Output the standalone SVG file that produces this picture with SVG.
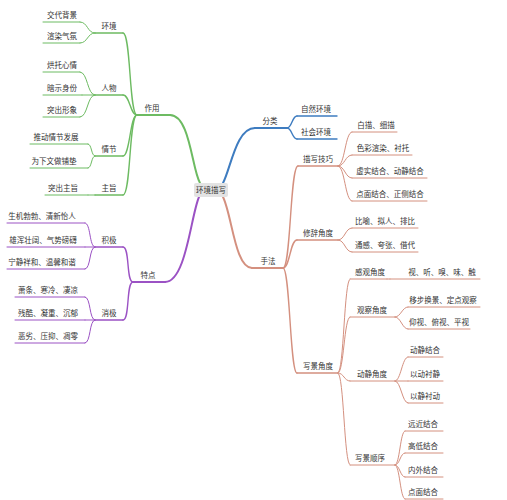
<svg xmlns="http://www.w3.org/2000/svg" width="507" height="500" viewBox="0 0 507 500">
<style>
text{font-family:"Noto Sans CJK SC","Noto Sans",sans-serif;font-size:7.5px;fill:#333;text-anchor:middle}
path,line{fill:none;stroke-linecap:round}
.g{stroke:#6dbb62}.b{stroke:#3e7cc0}.p{stroke:#9b52c4}.r{stroke:#d4907f}
.w2{stroke-width:2}.w15{stroke-width:1.4}.w1{stroke-width:1}
</style>
<rect width="507" height="500" fill="#fff"/>
<g id="connectors">
<!-- main -->
<path class="g w2" d="M170,115 C190,115 192,170 200,183"/>
<path class="b w2" d="M223,183 C231,168 236,128 255,128"/>
<path class="p w2" d="M199,197 C191,215 186,282 165,282"/>
<path class="r w2" d="M223,197 C232,215 235,268 252,268"/>
<!-- green level 2 -->
<path class="g w15" d="M137,115 C129,115 131,33 123,33"/>
<path class="g w15" d="M137,115 C130,115 130,95 123,95"/>
<path class="g w15" d="M137,115 C130,115 130,156 123,156"/>
<path class="g w15" d="M137,115 C129,115 131,195 123,195"/>
<!-- green level 3 -->
<path class="g w1" d="M95,33 C87,33 88,22 80,22"/>
<path class="g w1" d="M95,33 C87,33 88,43 80,43"/>
<path class="g w1" d="M95,95 C87,95 88,72 80,72"/>
<path class="g w1" d="M95,95 L82,95"/>
<path class="g w1" d="M95,95 C87,95 88,117 80,117"/>
<path class="g w1" d="M95,156 C91,156 92,144 88,144"/>
<path class="g w1" d="M95,156 C91,156 92,168 88,168"/>
<path class="g w1" d="M95,195 L88,195"/>
<!-- blue level 2 -->
<path class="b w15" d="M287,128 C292,128 292,116 297,116"/>
<path class="b w15" d="M287,128 C292,128 292,139 297,139"/>
<!-- purple level 2 -->
<path class="p w15" d="M133,282 C126,282 130,247 123,247"/>
<path class="p w15" d="M133,282 C126,282 130,320 123,320"/>
<path class="p w1" d="M95,247 C89,247 91,223 85,223"/>
<path class="p w1" d="M95,247 L85,247"/>
<path class="p w1" d="M95,247 C89,247 91,269 85,269"/>
<path class="p w1" d="M95,320 C89,320 91,297 85,297"/>
<path class="p w1" d="M95,320 L85,320"/>
<path class="p w1" d="M95,320 C89,320 91,343 85,343"/>
<!-- salmon level 2 -->
<path class="r w15" d="M283,268 C291,268 290,166 298,166"/>
<path class="r w15" d="M283,268 C290,268 290,240 297,240"/>
<path class="r w15" d="M283,268 C290,268 290,373 297,373"/>
<!-- salmon level 3 -->
<path class="r w1" d="M338,166 C345,166 345,132 352,132"/>
<path class="r w1" d="M338,166 C345,166 345,155 352,155"/>
<path class="r w1" d="M338,166 C345,166 345,178 352,178"/>
<path class="r w1" d="M338,166 C345,166 345,201 352,201"/>
<path class="r w1" d="M338,240 C345,240 345,228 352,228"/>
<path class="r w1" d="M338,240 C345,240 345,252 352,252"/>
<path class="r w1" d="M338,373 C344,373 344,279 350,279"/>
<path class="r w1" d="M338,373 C344,373 344,317 350,317"/>
<path class="r w1" d="M338,373 C344,373 344,381 350,381"/>
<path class="r w1" d="M338,373 C344,373 344,465 350,465"/>
<!-- salmon level 4 -->
<path class="r w1" d="M387,279 L390,279"/>
<path class="r w1" d="M395,317 C401,317 402,307 408,307"/>
<path class="r w1" d="M395,317 C401,317 402,329 408,329"/>
<path class="r w1" d="M395,381 C401,381 402,357 408,357"/>
<path class="r w1" d="M395,381 L408,381"/>
<path class="r w1" d="M395,381 C401,381 402,403 408,403"/>
<path class="r w1" d="M395,465 C400,465 400,431 405,431"/>
<path class="r w1" d="M395,465 C400,465 400,453 405,453"/>
<path class="r w1" d="M395,465 C400,465 400,477 405,477"/>
<path class="r w1" d="M395,465 C400,465 400,499 405,499"/>
</g>
<g id="root"><rect x="194" y="183" width="34" height="14" rx="2" fill="#e3e3e3"/><text x="211" y="193">环境描写</text></g>
<!-- green -->
<g id="n-zuoyong"><line class="g w2" x1="137" y1="115" x2="170" y2="115"/><text x="152" y="111">作用</text></g>
<g id="n-huanjing"><line class="g w15" x1="95" y1="33" x2="123" y2="33"/><text x="109" y="29">环境</text></g>
<g id="n-jiaodai"><line class="g w1" x1="43" y1="22" x2="80" y2="22"/><text x="62" y="18">交代背景</text></g>
<g id="n-xuanran"><line class="g w1" x1="43" y1="43" x2="80" y2="43"/><text x="62" y="39">渲染气氛</text></g>
<g id="n-renwu"><line class="g w15" x1="95" y1="95" x2="123" y2="95"/><text x="109" y="91">人物</text></g>
<g id="n-hongtuo"><line class="g w1" x1="43" y1="72" x2="80" y2="72"/><text x="62" y="68">烘托心情</text></g>
<g id="n-anshi"><line class="g w1" x1="43" y1="95" x2="82" y2="95"/><text x="62" y="91">暗示身份</text></g>
<g id="n-tuchu"><line class="g w1" x1="43" y1="117" x2="80" y2="117"/><text x="62" y="113">突出形象</text></g>
<g id="n-qingjie"><line class="g w15" x1="95" y1="156" x2="123" y2="156"/><text x="109" y="152">情节</text></g>
<g id="n-tuidong"><line class="g w1" x1="30" y1="144" x2="88" y2="144"/><text x="56" y="140">推动情节发展</text></g>
<g id="n-puidian"><line class="g w1" x1="30" y1="168" x2="88" y2="168"/><text x="54" y="164">为下文做铺垫</text></g>
<g id="n-zhuzhi"><line class="g w15" x1="95" y1="195" x2="123" y2="195"/><text x="109" y="191">主旨</text></g>
<g id="n-tuchuzhuzhi"><line class="g w1" x1="45" y1="195" x2="88" y2="195"/><text x="63" y="191">突出主旨</text></g>
<!-- purple -->
<g id="n-tedian"><line class="p w2" x1="133" y1="282" x2="165" y2="282"/><text x="148" y="278">特点</text></g>
<g id="n-jiji"><line class="p w15" x1="95" y1="247" x2="123" y2="247"/><text x="109" y="243">积极</text></g>
<g id="n-shengji"><line class="p w1" x1="7" y1="223" x2="85" y2="223"/><text x="42" y="219">生机勃勃、清新怡人</text></g>
<g id="n-xionghun"><line class="p w1" x1="7" y1="247" x2="85" y2="247"/><text x="43" y="243">雄浑壮阔、气势磅礴</text></g>
<g id="n-ningjing"><line class="p w1" x1="7" y1="269" x2="85" y2="269"/><text x="42" y="265">宁静祥和、温馨和谐</text></g>
<g id="n-xiaoji"><line class="p w15" x1="95" y1="320" x2="123" y2="320"/><text x="109" y="316">消极</text></g>
<g id="n-xiaotiao"><line class="p w1" x1="15" y1="297" x2="85" y2="297"/><text x="48" y="293">萧条、寒冷、凄凉</text></g>
<g id="n-canku"><line class="p w1" x1="15" y1="320" x2="85" y2="320"/><text x="48" y="316">残酷、凝重、沉郁</text></g>
<g id="n-elie"><line class="p w1" x1="15" y1="343" x2="85" y2="343"/><text x="48" y="339">恶劣、压抑、凋零</text></g>
<!-- blue -->
<g id="n-fenlei"><line class="b w2" x1="255" y1="128" x2="287" y2="128"/><text x="270" y="124">分类</text></g>
<g id="n-ziran"><line class="b w15" x1="297" y1="116" x2="337" y2="116"/><text x="316" y="112">自然环境</text></g>
<g id="n-shehui"><line class="b w15" x1="297" y1="139" x2="337" y2="139"/><text x="316" y="135">社会环境</text></g>
<!-- salmon -->
<g id="n-shoufa"><line class="r w2" x1="252" y1="268" x2="283" y2="268"/><text x="268" y="264">手法</text></g>
<g id="n-miaoxie"><line class="r w15" x1="298" y1="166" x2="338" y2="166"/><text x="318" y="162">描写技巧</text></g>
<g id="n-baimiao"><line class="r w1" x1="352" y1="132" x2="397" y2="132"/><text x="376" y="128">白描、细描</text></g>
<g id="n-secai"><line class="r w1" x1="352" y1="155" x2="412" y2="155"/><text x="383" y="151">色彩渲染、衬托</text></g>
<g id="n-xushi"><line class="r w1" x1="352" y1="178" x2="427" y2="178"/><text x="390" y="174">虚实结合、动静结合</text></g>
<g id="n-dianmian1"><line class="r w1" x1="352" y1="201" x2="427" y2="201"/><text x="390" y="197">点面结合、正侧结合</text></g>
<g id="n-xiuci"><line class="r w15" x1="297" y1="240" x2="338" y2="240"/><text x="318" y="236">修辞角度</text></g>
<g id="n-biyu"><line class="r w1" x1="352" y1="228" x2="418" y2="228"/><text x="385" y="224">比喻、拟人、排比</text></g>
<g id="n-tonggan"><line class="r w1" x1="352" y1="252" x2="418" y2="252"/><text x="385" y="248">通感、夸张、借代</text></g>
<g id="n-xiejing"><line class="r w15" x1="297" y1="373" x2="338" y2="373"/><text x="318" y="369">写景角度</text></g>
<g id="n-ganguan"><line class="r w1" x1="350" y1="279" x2="387" y2="279"/><text x="370" y="275">感观角度</text></g>
<g id="n-shiting"><line class="r w1" x1="390" y1="279" x2="480" y2="279"/><text x="442" y="275">视、听、嗅、味、触</text></g>
<g id="n-guancha"><line class="r w1" x1="350" y1="317" x2="395" y2="317"/><text x="372" y="313">观察角度</text></g>
<g id="n-yibu"><line class="r w1" x1="408" y1="307" x2="480" y2="307"/><text x="443" y="303">移步换景、定点观察</text></g>
<g id="n-yangshi"><line class="r w1" x1="408" y1="329" x2="470" y2="329"/><text x="439" y="325">仰视、俯视、平视</text></g>
<g id="n-dongjing"><line class="r w1" x1="350" y1="381" x2="395" y2="381"/><text x="372" y="377">动静角度</text></g>
<g id="n-dongjingjiehe"><line class="r w1" x1="408" y1="357" x2="443" y2="357"/><text x="425" y="353">动静结合</text></g>
<g id="n-yidong"><line class="r w1" x1="408" y1="381" x2="443" y2="381"/><text x="425" y="377">以动衬静</text></g>
<g id="n-yijing"><line class="r w1" x1="408" y1="403" x2="443" y2="403"/><text x="425" y="399">以静衬动</text></g>
<g id="n-shunxu"><line class="r w1" x1="350" y1="465" x2="395" y2="465"/><text x="370" y="461">写景顺序</text></g>
<g id="n-yuanjin"><line class="r w1" x1="405" y1="431" x2="443" y2="431"/><text x="423" y="427">远近结合</text></g>
<g id="n-gaodi"><line class="r w1" x1="405" y1="453" x2="443" y2="453"/><text x="423" y="449">高低结合</text></g>
<g id="n-neiwai"><line class="r w1" x1="405" y1="477" x2="443" y2="477"/><text x="423" y="473">内外结合</text></g>
<g id="n-dianmian2"><line class="r w1" x1="405" y1="499" x2="443" y2="499"/><text x="423" y="495">点面结合</text></g>
</svg>
